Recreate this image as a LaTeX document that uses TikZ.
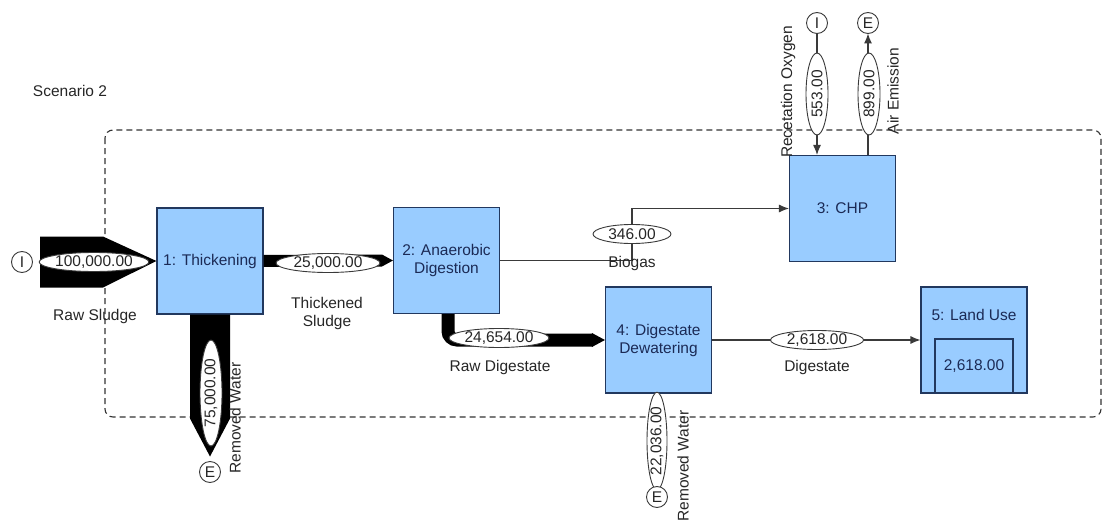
\documentclass[tikz,border=0pt]{standalone}
\usepackage{fontspec}
\setmainfont{Liberation Sans}
\usetikzlibrary{shapes.geometric,arrows.meta,calc}
\definecolor{boxfill}{HTML}{99CCFF}
\definecolor{boxline}{HTML}{22385E}
\definecolor{boxtext}{HTML}{1B2A55}
\definecolor{flowgray}{HTML}{3A3A3A}
\begin{document}
\begin{tikzpicture}[x=1pt,y=-1pt,
  every node/.style={font=\fontsize{15.5pt}{18pt}\selectfont},
  proc/.style={draw=boxline, line width=1.1pt, fill=boxfill, minimum width=106pt, minimum height=106pt, inner sep=0pt, text=boxtext, align=center},
  flab/.style={ellipse, draw=flowgray, line width=0.9pt, fill=white, inner sep=0pt, minimum height=19pt, text=black!85},
  term/.style={circle, draw=flowgray, line width=0.9pt, fill=white, minimum size=21pt, inner sep=0pt, text=black!85},
  txt/.style={text=black!85, align=center},
  thinflow/.style={draw=flowgray, line width=1.1pt},
  tip/.style={-{Latex[length=10pt,width=8pt]}},
  band/.style={fill=black}
]
\useasboundingbox (0,0) rectangle (1103,527);
\node[txt] (title) at (70,91) {Scenario 2};
\draw[draw=black!80, line width=1.1pt, dash pattern=on 6pt off 4pt, rounded corners=8pt] (105,130) rectangle (1101,417);

% process boxes
\node[proc] (b1) at (210,261) {1: Thickening};
\node[proc] (b2) at (446.5,260.5) {2: Anaerobic\\Digestion};
\node[proc] (b3) at (842.5,208.5) {3: CHP};
\node[proc] (b4) at (658.5,340) {4: Digestate\\Dewatering};
\node[proc] (b5) at (974,340) {};
\node[text=boxtext] (b5t) at (974,315) {5: Land Use};
\node[draw=boxline, line width=1.1pt, fill=boxfill, minimum width=78pt, minimum height=54pt, inner sep=0pt, text=boxtext] (b5i) at (974,366) {2,618.00};

% terminal positions
\coordinate (i1) at (22,262);
\coordinate (e1) at (210,472);
\coordinate (i3) at (817,23);
\coordinate (e3) at (868,23);
\coordinate (e4) at (657,497);

% wide flows
\coordinate (rs) at (40,262);
\fill[band] ($(rs)+(0,-25.5)$) -- ($(rs)+(63,-25.5)$) -- (b1.west) -- ($(rs)+(63,25.5)$) -- ($(rs)+(0,25.5)$) -- cycle;
\fill[band] ($(b1.east)+(0,-6)$) -- ($(b2.west)+(-11,-6)$) -- (b2.west) -- ($(b2.west)+(-11,6)$) -- ($(b1.east)+(0,6)$) -- cycle;
\fill[band] ($(b1.south)+(-20,0)$) -- ($(b1.south)+(20,0)$) -- ($(b1.south)+(20,104)$) -- ($(e1)+(0,-15.5)$) -- ($(b1.south)+(-20,104)$) -- cycle;
\draw[line width=13pt, rounded corners=9pt] ($(b2.south)+(1.5,0)$) |- ($(b4.west)+(-12,0)$);
\fill[band] ($(b4.west)+(-13,-7)$) -- (b4.west) -- ($(b4.west)+(-13,7)$) -- cycle;

% thin flows
\coordinate (bg) at (632,260.5);
\draw[thinflow, tip] (b2.east) -- (bg) |- (b3.west);
\draw[thinflow, tip] ($(i3)+(0,10.5)$) -- (i3 |- b3.north);
\draw[thinflow, tip] (e3 |- b3.north) -- ($(e3)+(0,10.5)$);
\draw[thinflow, tip] (b4.east) -- (b5.west);
\draw[thinflow] (e4 |- b4.south) -- ($(e4)+(0,-10.5)$);

% flow value labels
\node[flab, minimum width=108pt] (l1) at (94,262) {100,000.00};
\node[flab, minimum width=104pt] (l2) at (328,263) {25,000.00};
\node[flab, minimum width=100pt] (l3) at (499,338) {24,654.00};
\node[flab, minimum width=78pt] (l4) at (632,234) {346.00};
\node[flab, minimum width=93pt] (l5) at (817,340) {2,618.00};
\node[flab, rotate=90, minimum width=106pt, minimum height=22pt] (l6) at (211,393) {75,000.00};
\node[flab, rotate=90, minimum width=82pt, minimum height=22pt] (l7) at (817,94) {553.00};
\node[flab, rotate=90, minimum width=82pt, minimum height=22pt] (l8) at (869,94) {899.00};
\node[flab, rotate=90, minimum width=94pt, minimum height=20pt] (l9) at (657,441) {22,036.00};

% terminals (on top)
\node[term] (ti1) at (i1) {I};
\node[term] (te1) at (e1) {E};
\node[term] (ti3) at (i3) {I};
\node[term] (te3) at (e3) {E};
\node[term] (te4) at (e4) {E};

% flow name labels
\node[txt] (t1) at (95,316) {Raw Sludge};
\node[txt] (t2) at (327,313) {Thickened\\Sludge};
\node[txt] (t3) at (500,367) {Raw Digestate};
\node[txt] (t4) at (632,263) {Biogas};
\node[txt] (t5) at (817,367) {Digestate};
\node[txt, rotate=90] (t6) at (235,418) {Removed Water};
\node[txt, rotate=90] (t7) at (683,466) {Removed Water};
\node[txt, rotate=90] (t8) at (788,92) {Recetation Oxygen};
\node[txt, rotate=90] (t9) at (893,91) {Air Emission};
\end{tikzpicture}
\end{document}
